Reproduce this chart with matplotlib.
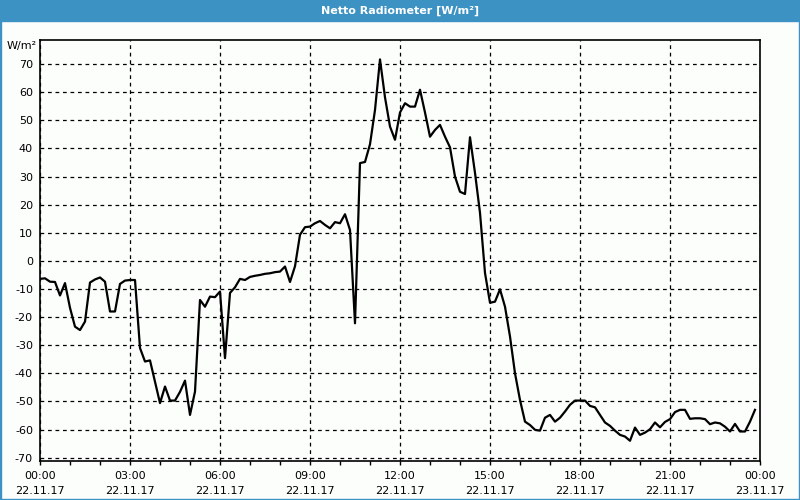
import numpy as np
import matplotlib
matplotlib.use("Agg")
import matplotlib.pyplot as plt
from matplotlib.patches import Rectangle
from matplotlib.ticker import MultipleLocator

# 10-minute readings, 22.11.17 00:00 .. 23:50
radiation = [
    -6.4, -6.2, -7.4, -7.5, -12.3, -7.9, -16.7, -23.4, -24.6, -21.6,
    -7.7, -6.6, -5.9, -7.4, -18.0, -18.0, -8.2, -7.0, -6.8, -6.8,
    -31.0, -35.8, -35.4, -43.0, -50.6, -44.7, -49.7, -49.7, -46.6, -42.6,
    -54.8, -46.5, -13.9, -16.3, -12.7, -12.9, -10.9, -34.6, -11.4, -9.4,
    -6.4, -6.8, -5.7, -5.3, -5.0, -4.6, -4.4, -4.0, -3.8, -2.0,
    -7.5, -1.9, 9.3, 12.0, 12.2, 13.4, 14.2, 12.8, 11.6, 13.8,
    13.4, 16.6, 11.0, -22.2, 34.8, 35.2, 41.5, 53.7, 71.7, 58.2,
    47.8, 43.1, 52.8, 56.1, 54.9, 54.9, 60.9, 52.8, 44.2, 46.6,
    48.4, 44.2, 40.4, 30.0, 24.6, 23.8, 44.0, 31.3, 17.1, -4.3,
    -14.9, -14.5, -10.1, -16.3, -26.9, -40.0, -49.5, -57.2, -58.4, -60.1,
    -60.4, -55.8, -54.8, -57.2, -55.8, -53.6, -51.2, -49.7, -49.7, -49.7,
    -51.6, -52.1, -54.8, -57.5, -58.7, -60.4, -61.9, -62.5, -64.0, -59.3,
    -61.9, -61.1, -59.9, -57.5, -59.2, -57.3, -56.3, -53.8, -53.0, -53.0,
    -56.2, -56.0, -56.0, -56.3, -58.1, -57.5, -57.8, -59.0, -60.7, -58.0,
    -60.7, -60.7, -57.2, -53.0,
]
hours = np.arange(len(radiation)) / 6.0

tick_hours = [0, 3, 6, 9, 12, 15, 18, 21, 24]
tick_labels = ["00:00\n22.11.17", "03:00\n22.11.17", "06:00\n22.11.17",
               "09:00\n22.11.17", "12:00\n22.11.17", "15:00\n22.11.17",
               "18:00\n22.11.17", "21:00\n22.11.17", "00:00\n23.11.17"]
y_ticks = list(range(-70, 80, 10))

bg = "#fcfefc"
blue = "#3d92c4"

fig = plt.figure(figsize=(8, 5), dpi=100, facecolor=bg)

# title bar and frame
fig.patches.append(Rectangle((0, 1 - 21 / 500), 1, 21 / 500, transform=fig.transFigure,
                             color=blue, zorder=0))
fig.patches.append(Rectangle((0, 0), 1 / 800, 1, transform=fig.transFigure, color=blue))
fig.patches.append(Rectangle((1 - 1 / 800, 0), 1 / 800, 1, transform=fig.transFigure, color=blue))
fig.patches.append(Rectangle((0, 0), 1, 1 / 500, transform=fig.transFigure, color=blue))
fig.text(0.5, 1 - 10.5 / 500, "Netto Radiometer [W/m²]", color="white", fontsize=8,
         fontweight="bold", ha="center", va="center")

ax = fig.add_axes([40 / 800, 39 / 500, 720 / 800, 421 / 500])
ax.set_facecolor(bg)
ax.plot(hours, radiation, color="black", linewidth=1.6, zorder=3)

ax.set_xlim(0, 24)
ax.set_ylim(-71.2, 78.6)
ax.set_xticks(tick_hours)
ax.set_xticklabels(tick_labels, fontsize=8, linespacing=1.6)
ax.xaxis.set_minor_locator(MultipleLocator(1))
ax.set_yticks(y_ticks)
ax.set_yticklabels([str(v) for v in y_ticks], fontsize=8)

ax.tick_params(axis="y", length=0, pad=5)
ax.tick_params(axis="x", which="major", length=3, width=1, direction="out", pad=4)
ax.tick_params(axis="x", which="minor", length=3, width=1, direction="out")
ax.grid(True, which="major", color="black", linestyle=(0, (3, 3)), linewidth=0.9)

for s in ax.spines.values():
    s.set_color("black")
    s.set_linewidth(1.2)

fig.text(22 / 800, 1 - 46 / 500, "W/m²", fontsize=8, ha="center", va="center")

plt.savefig("out.png", dpi=100, facecolor=bg)
